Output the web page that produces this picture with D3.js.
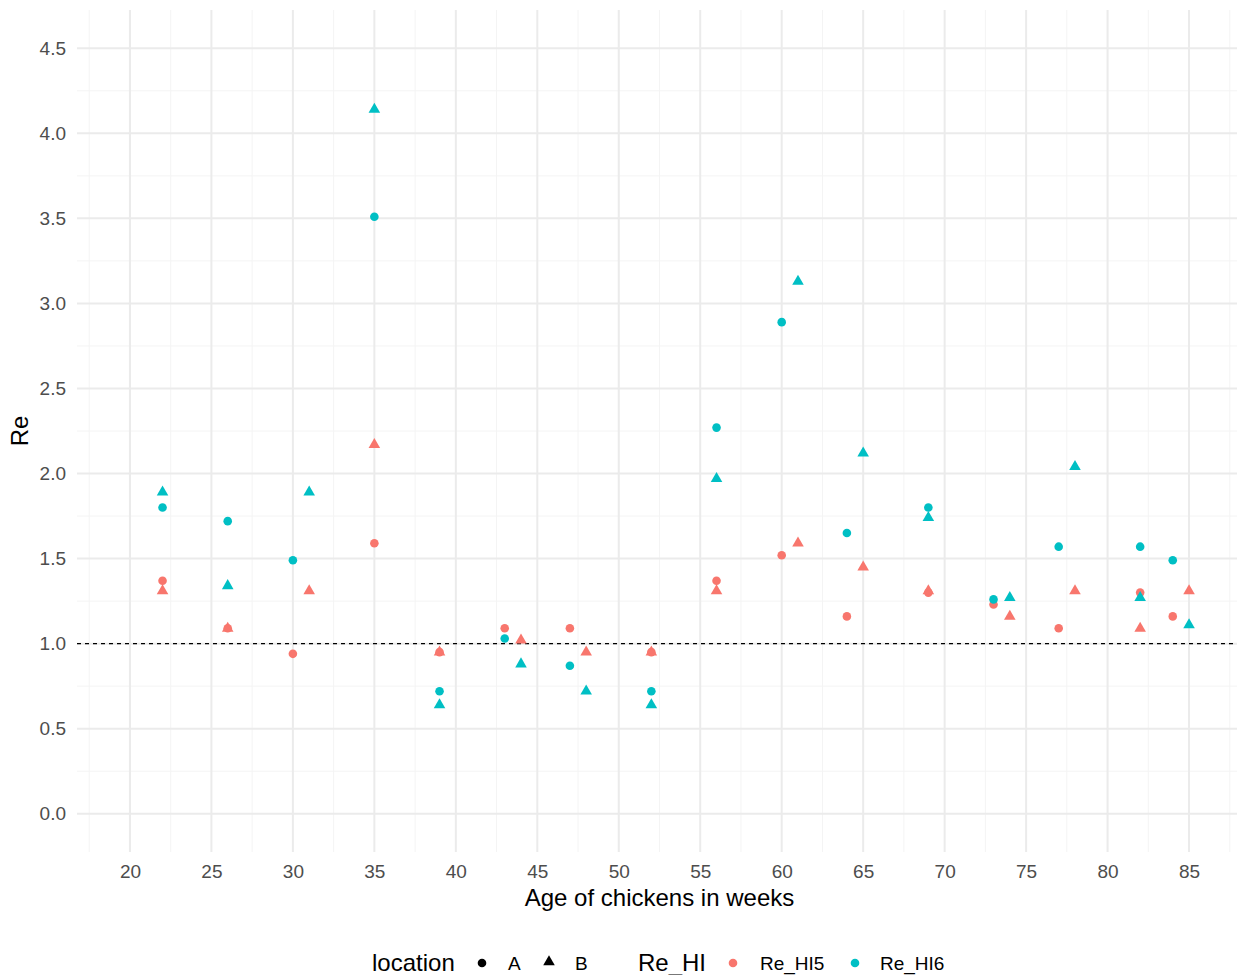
<!DOCTYPE html>
<html>
<head>
<meta charset="utf-8">
<script src="https://cdn.jsdelivr.net/npm/d3@7"></script>
<style>
  body { margin: 0; background: #fff; }
  text { font-family: "Liberation Sans", Arial, sans-serif; }
</style>
</head>
<body>
<div id="chart"></div>
<script>
// ages (weeks) per location
var agesA = [22, 26, 30, 35, 39, 43, 47, 52, 56, 60, 64, 69, 73, 77, 82, 84];
var agesB = [22, 26, 31, 35, 39, 44, 48, 52, 56, 61, 65, 69, 74, 78, 82, 85];

// Re values
var hi5A = [1.37, 1.09, 0.94, 1.59, 0.95, 1.09, 1.09, 0.95, 1.37, 1.52, 1.16, 1.30, 1.23, 1.09, 1.30, 1.16];
var hi6A = [1.80, 1.72, 1.49, 3.51, 0.72, 1.03, 0.87, 0.72, 2.27, 2.89, 1.65, 1.80, 1.26, 1.57, 1.57, 1.49];
var hi5B = [1.31, 1.09, 1.31, 2.17, 0.95, 1.02, 0.95, 0.95, 1.31, 1.59, 1.45, 1.31, 1.16, 1.31, 1.09, 1.31];
var hi6B = [1.89, 1.34, 1.89, 4.14, 0.64, 0.88, 0.72, 0.64, 1.97, 3.13, 2.12, 1.74, 1.27, 2.04, 1.27, 1.11];

var xTicks = [20, 25, 30, 35, 40, 45, 50, 55, 60, 65, 70, 75, 80, 85];
var yTicks = [0, 0.5, 1, 1.5, 2, 2.5, 3, 3.5, 4, 4.5];
var xMinor = [17.5, 22.5, 27.5, 32.5, 37.5, 42.5, 47.5, 52.5, 57.5, 62.5, 67.5, 72.5, 77.5, 82.5, 87.5];
var yMinor = [0.25, 0.75, 1.25, 1.75, 2.25, 2.75, 3.25, 3.75, 4.25];
var refLine = 1;

var colors = { Re_HI5: '#F8766D', Re_HI6: '#00BFC4' };

var width = 1237, height = 975;
var panel = { left: 77, right: 1242, top: 10, bottom: 852 };

// build long-format rows, drawn HI5 first then HI6, A before B
var points = [];
function addRows(ages, vals, loc, series) {
    ages.forEach(function(a, i) {
        points.push({ age: a, re: vals[i], location: loc, series: series });
    });
}
addRows(agesA, hi5A, 'A', 'Re_HI5');
addRows(agesB, hi5B, 'B', 'Re_HI5');
addRows(agesA, hi6A, 'A', 'Re_HI6');
addRows(agesB, hi6B, 'B', 'Re_HI6');

var x = d3.scaleLinear().domain([16.75, 88.25]).range([panel.left, panel.right]);
var y = d3.scaleLinear().domain([-0.225, 4.725]).range([panel.bottom, panel.top]);

var svg = d3.select('#chart').append('svg')
    .attr('width', width)
    .attr('height', height);

var grid = svg.append('g');

// minor grid
grid.selectAll('.hminor').data(yMinor).enter().append('line')
    .attr('x1', panel.left).attr('x2', panel.right)
    .attr('y1', function(d) { return y(d); }).attr('y2', function(d) { return y(d); })
    .style('stroke', '#F4F4F4').style('stroke-width', 1);
grid.selectAll('.vminor').data(xMinor).enter().append('line')
    .attr('y1', panel.top).attr('y2', panel.bottom)
    .attr('x1', function(d) { return x(d); }).attr('x2', function(d) { return x(d); })
    .style('stroke', '#F4F4F4').style('stroke-width', 1);

// major grid
grid.selectAll('.hmajor').data(yTicks).enter().append('line')
    .attr('x1', panel.left).attr('x2', panel.right)
    .attr('y1', function(d) { return y(d); }).attr('y2', function(d) { return y(d); })
    .style('stroke', '#EBEBEB').style('stroke-width', 2);
grid.selectAll('.vmajor').data(xTicks).enter().append('line')
    .attr('y1', panel.top).attr('y2', panel.bottom)
    .attr('x1', function(d) { return x(d); }).attr('x2', function(d) { return x(d); })
    .style('stroke', '#EBEBEB').style('stroke-width', 2);

// axes (labels only, theme_minimal style)
var xAxis = svg.append('g')
    .attr('transform', 'translate(0,' + panel.bottom + ')')
    .call(d3.axisBottom(x).tickValues(xTicks).tickSize(0).tickPadding(13));
var yAxis = svg.append('g')
    .attr('transform', 'translate(' + panel.left + ',0)')
    .call(d3.axisLeft(y).tickValues(yTicks).tickSize(0).tickPadding(11).tickFormat(d3.format('.1f')));
[xAxis, yAxis].forEach(function(ax) {
    ax.select('.domain').remove();
    ax.selectAll('text')
        .style('font-family', '"Liberation Sans", Arial, sans-serif')
        .style('font-size', '19px')
        .style('fill', '#4D4D4D');
});

// dashed reference line
svg.append('line')
    .attr('x1', panel.left).attr('x2', panel.right)
    .attr('y1', y(refLine)).attr('y2', y(refLine))
    .style('stroke', '#000')
    .style('stroke-width', 1.1)
    .style('stroke-dasharray', '4,4');

// points
var circleSym = d3.symbol().type(d3.symbolCircle).size(58);
var triSym = d3.symbol().type(d3.symbolTriangle).size(58);

svg.append('g').selectAll('path')
    .data(points)
    .enter()
    .append('path')
    .attr('transform', function(d) { return 'translate(' + x(d.age) + ',' + y(d.re) + ')'; })
    .attr('d', function(d) { return d.location === 'A' ? circleSym() : triSym(); })
    .style('fill', function(d) { return colors[d.series]; });

// axis titles
svg.append('text')
    .attr('x', (panel.left + panel.right) / 2)
    .attr('y', 906)
    .attr('text-anchor', 'middle')
    .style('font-size', '24px')
    .style('fill', '#000')
    .text('Age of chickens in weeks');

svg.append('text')
    .attr('transform', 'translate(28,' + ((panel.top + panel.bottom) / 2) + ') rotate(-90)')
    .attr('text-anchor', 'middle')
    .style('font-size', '24px')
    .style('fill', '#000')
    .text('Re');

// legend
var legY = 963;
var leg = svg.append('g');

leg.append('text').attr('x', 372).attr('y', legY).attr('dy', '0.35em')
    .style('font-size', '24px').text('location');
leg.append('path').attr('transform', 'translate(482,' + legY + ')')
    .attr('d', circleSym()).style('fill', '#000');
leg.append('text').attr('x', 508).attr('y', legY).attr('dy', '0.35em')
    .style('font-size', '19px').text('A');
leg.append('path').attr('transform', 'translate(549,' + (legY - 1) + ')')
    .attr('d', triSym()).style('fill', '#000');
leg.append('text').attr('x', 575).attr('y', legY).attr('dy', '0.35em')
    .style('font-size', '19px').text('B');

leg.append('text').attr('x', 638).attr('y', legY).attr('dy', '0.35em')
    .style('font-size', '24px').text('Re_HI');
leg.append('path').attr('transform', 'translate(733,' + legY + ')')
    .attr('d', circleSym()).style('fill', colors.Re_HI5);
leg.append('text').attr('x', 760).attr('y', legY).attr('dy', '0.35em')
    .style('font-size', '19px').text('Re_HI5');
leg.append('path').attr('transform', 'translate(855,' + legY + ')')
    .attr('d', circleSym()).style('fill', colors.Re_HI6);
leg.append('text').attr('x', 880).attr('y', legY).attr('dy', '0.35em')
    .style('font-size', '19px').text('Re_HI6');
</script>
</body>
</html>
